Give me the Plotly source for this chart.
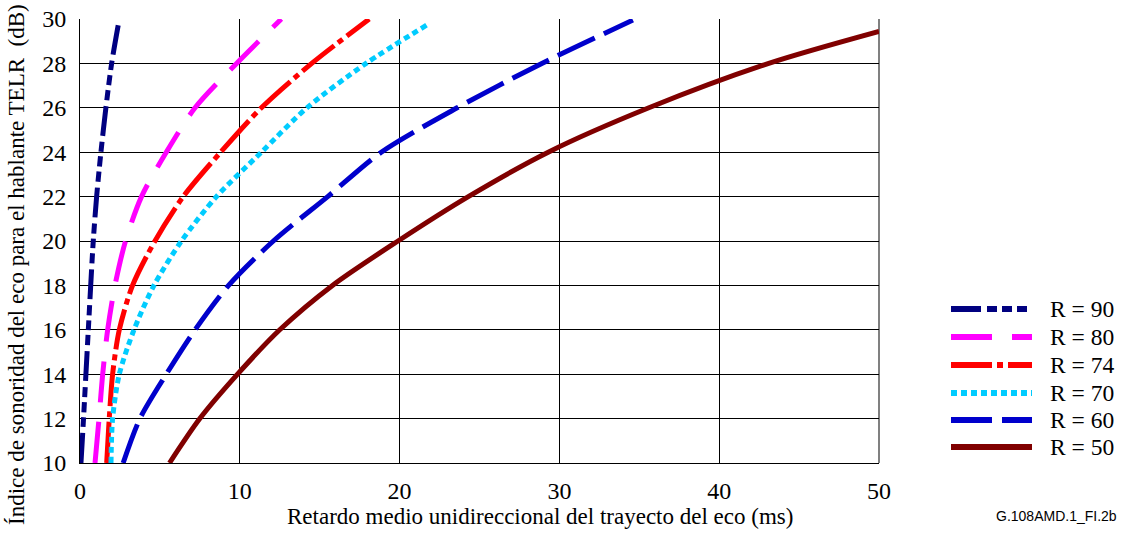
import plotly.graph_objects as go

# ---- data ----
telr = [10, 12, 14, 16, 18, 20, 22, 24, 26, 28, 30]

labels = ["R = 90", "R = 80", "R = 74", "R = 70", "R = 60", "R = 50"]

x_r90 = [0.06, 0.22, 0.37, 0.52, 0.67, 0.83, 1.04, 1.31, 1.62, 1.98, 2.46]
y_r90 = telr

x_r80 = [0.94, 1.19, 1.42, 1.73, 2.19, 2.85, 3.85, 5.4, 7.2, 9.8, 12.6]
y_r80 = telr

x_r74 = [1.67, 1.83, 2.04, 2.46, 3.29, 4.69, 6.46, 8.8, 11.35, 14.5, 18.1]
y_r74 = telr

x_r70 = [1.94, 2.04, 2.46, 3.38, 4.63, 6.35, 8.54, 11.35, 14.2, 17.9, 21.75]
y_r70 = [10, 12, 14, 16, 18, 20, 22, 24, 26, 28, 29.75]

x_r60 = [2.7, 3.75, 5.4, 7.2, 9.3, 12.1, 15.5, 18.85, 23.6, 28.9, 34.6]
y_r60 = [10, 12, 14, 16, 18, 20, 22, 24, 26, 28, 29.95]

x_r50 = [5.6, 7.5, 9.86, 12.5, 15.8, 19.9, 24.3, 29.3, 35.6, 43.1, 50.0]
y_r50 = [10, 12, 14, 16, 18, 20, 22, 24, 26, 28, 29.44]

x_ticks = [0, 10, 20, 30, 40, 50]
y_ticks = [10, 12, 14, 16, 18, 20, 22, 24, 26, 28, 30]

series_x = [x_r90, x_r80, x_r74, x_r70, x_r60, x_r50]
series_y = [y_r90, y_r80, y_r74, y_r70, y_r60, y_r50]

# ---- styles ----
colors = ["#000080", "#FF00FF", "#FF0000", "#00CCFF", "#0000CC", "#800000"]
dashes = ["30px,6px,10px,5px,10px,5px,10px,6px", "41px,20px", "41px,5px,6px,5px",
          "6px,4px", "41px,10px", "solid"]

W, H = 1126, 540
ML, MR, MT, MB = 80, 247, 19, 77
PW = W - ML - MR
PH = H - MT - MB

def px_x(p):
    return (p - ML) / PW

def px_y(p):
    return (H - MB - p) / PH

SERIF = "Liberation Serif"

fig = go.Figure()
for xs, ys, c, d, lab in zip(series_x, series_y, colors, dashes, labels):
    fig.add_trace(go.Scatter(
        x=xs, y=ys, mode="lines", name=lab,
        line=dict(color=c, width=5, dash=d, shape="spline", smoothing=0.8),
        showlegend=False, hoverinfo="skip"))

shapes = []
annotations = []
leg_y = [309, 337, 365, 393, 420, 447]
for i, (c, d, lab) in enumerate(zip(colors, dashes, labels)):
    yy = px_y(leg_y[i])
    shapes.append(dict(type="line", xref="paper", yref="paper",
                       x0=px_x(951), x1=px_x(1032), y0=yy, y1=yy,
                       line=dict(color=c, width=6, dash=d)))
    annotations.append(dict(text=lab, xref="paper", yref="paper",
                            x=px_x(1048), y=yy, xanchor="left", yanchor="middle",
                            showarrow=False, font=dict(family=SERIF, size=23.5, color="black")))

annotations.append(dict(text="Retardo medio unidireccional del trayecto del eco (ms)",
                        xref="paper", yref="paper", x=px_x(540), y=px_y(516),
                        xanchor="center", yanchor="middle", showarrow=False,
                        font=dict(family=SERIF, size=23, color="black")))
annotations.append(dict(text="Índice de sonoridad del eco para el hablante TELR  (dB)",
                        xref="paper", yref="paper", x=px_x(16), y=px_y(265),
                        xanchor="center", yanchor="middle", textangle=-90, showarrow=False,
                        font=dict(family=SERIF, size=23, color="black")))
annotations.append(dict(text="G.108AMD.1_FI.2b", xref="paper", yref="paper",
                        x=px_x(1119), y=px_y(516), xanchor="right", yanchor="middle",
                        showarrow=False,
                        font=dict(family="Liberation Sans", size=14, color="black")))

# right border (grey) of plot area
shapes.append(dict(type="line", xref="paper", yref="paper", x0=1, x1=1, y0=0, y1=1,
                   line=dict(color="#808080", width=2), layer="below"))

fig.update_layout(
    width=W, height=H,
    margin=dict(l=ML, r=MR, t=MT, b=MB, pad=0),
    paper_bgcolor="white", plot_bgcolor="white",
    shapes=shapes, annotations=annotations,
    showlegend=False,
    font=dict(family=SERIF, size=24, color="black"),
)
fig.update_xaxes(range=[0, 50], tickvals=x_ticks, ticktext=[str(v) for v in x_ticks],
                 showgrid=True, gridcolor="black", gridwidth=1,
                 showline=True, linecolor="black", linewidth=1, mirror=False,
                 ticks="outside", ticklen=0, ticklabelstandoff=6, zeroline=False,
                 automargin=False,
                 tickfont=dict(family=SERIF, size=24, color="black"))
fig.update_yaxes(range=[10, 30], tickvals=y_ticks, ticktext=[str(v) for v in y_ticks],
                 showgrid=True, gridcolor="black", gridwidth=1,
                 showline=True, linecolor="black", linewidth=1, mirror=False,
                 ticks="outside", ticklen=0, ticklabelstandoff=8, zeroline=False,
                 automargin=False,
                 tickfont=dict(family=SERIF, size=24, color="black"))

post = "document.body.style.margin='0px';document.body.style.overflow='hidden';"
fig.write_html("out.html", config={"displayModeBar": False}, post_script=post)
